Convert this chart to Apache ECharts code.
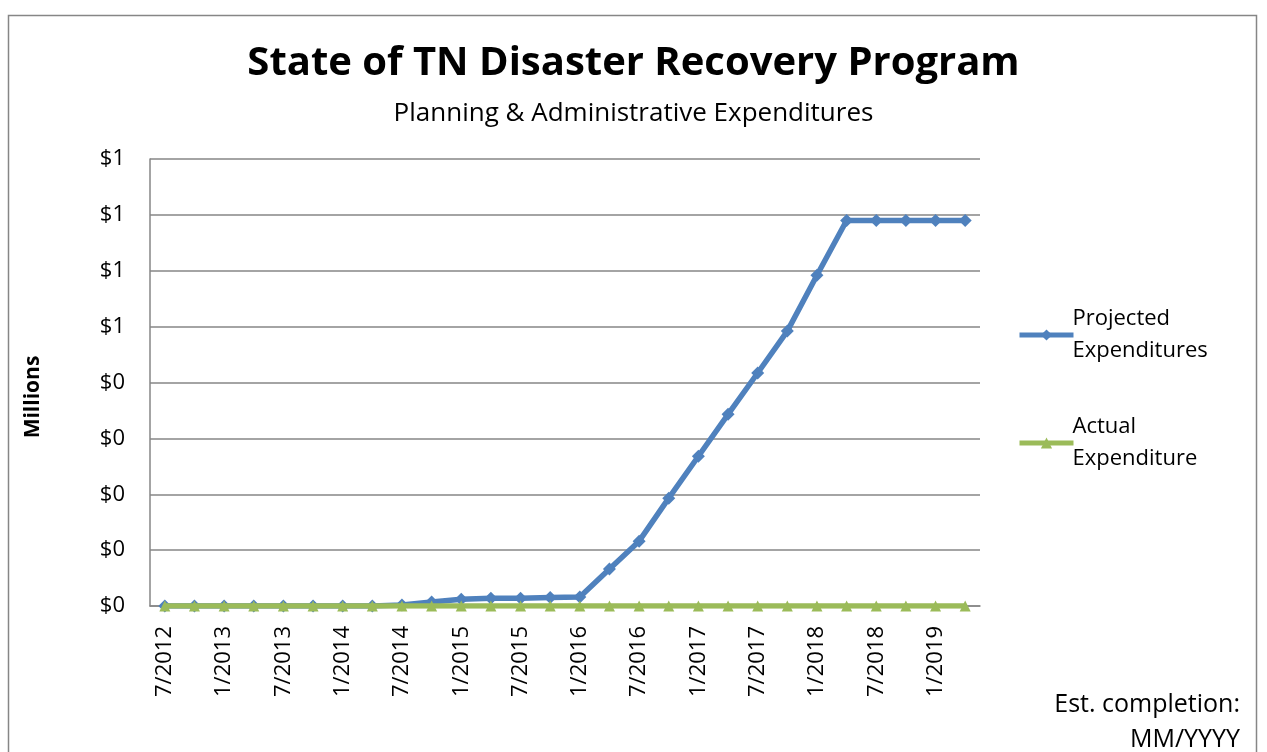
<!DOCTYPE html>
<html>
<head>
<meta charset="utf-8">
<script src="https://cdn.jsdelivr.net/npm/echarts@6/dist/echarts.min.js"></script>
<style>
  html, body { margin: 0; padding: 0; background: #fff; }
  #chart { width: 1267px; height: 752px; }
</style>
</head>
<body>
<div id="chart"></div>
<script>
// quarterly dates, 7/2012 .. 4/2019
const quarters = [
  "7/2012", "10/2012", "1/2013", "4/2013", "7/2013", "10/2013", "1/2014", "4/2014",
  "7/2014", "10/2014", "1/2015", "4/2015", "7/2015", "10/2015", "1/2016", "4/2016",
  "7/2016", "10/2016", "1/2017", "4/2017", "7/2017", "10/2017", "1/2018", "4/2018",
  "7/2018", "10/2018", "1/2019", "4/2019"
];

// values in millions of dollars
const projected = [
  0, 0, 0, 0, 0, 0, 0, 0,
  0.002, 0.007, 0.012, 0.014, 0.014, 0.015, 0.016, 0.066,
  0.116, 0.193, 0.268, 0.343, 0.417, 0.492, 0.592, 0.69,
  0.69, 0.69, 0.69, 0.69
];
const actual = Array(quarters.length).fill(0);

const fontFam = "'Open Sans', 'Noto Sans', sans-serif";

const chart = echarts.init(document.getElementById("chart"));
chart.setOption({
  animation: false,
  textStyle: { fontFamily: fontFam },
  title: [
    {
      text: "State of TN Disaster Recovery Program",
      left: "center", top: 39,
      textStyle: { fontSize: 40, fontWeight: "bold", color: "#000", fontFamily: fontFam }
    },
    {
      text: "Planning & Administrative Expenditures",
      left: "center", top: 96,
      textStyle: { fontSize: 26, fontWeight: "normal", color: "#000", fontFamily: fontFam }
    }
  ],
  graphic: [
    {
      type: "rect",
      shape: { x: 8.5, y: 15.5, width: 1248, height: 760 },
      style: { fill: "none", stroke: "#868686", lineWidth: 1.5 },
      silent: true
    },
    {
      type: "text",
      x: 1240, y: 705,
      style: {
        text: "Est. completion:",
        align: "right", verticalAlign: "middle",
        fontSize: 25, fill: "#000", fontFamily: fontFam
      }
    },
    {
      type: "text",
      x: 1240, y: 740,
      style: {
        text: "MM/YYYY",
        align: "right", verticalAlign: "middle",
        fontSize: 25, fill: "#000", fontFamily: fontFam
      }
    },
    {
      type: "text",
      x: 33, y: 397,
      rotation: Math.PI / 2,
      style: {
        text: "Millions",
        align: "center", verticalAlign: "middle",
        fontSize: 21, fontWeight: "bold",
        fill: "#000", fontFamily: fontFam
      }
    }
  ],
  legend: {
    orient: "vertical",
    left: 1012, top: 298,
    itemWidth: 54, itemHeight: 14,
    itemGap: 44,
    lineStyle: { width: 5 },
    textStyle: { fontSize: 22, color: "#000", lineHeight: 32, fontFamily: fontFam, padding: [0, 0, 0, -6] },
    data: [
      { name: "Projected\nExpenditures" },
      { name: "Actual\nExpenditure" }
    ]
  },
  grid: { left: 150, right: 287, top: 159, bottom: 146 },
  xAxis: {
    type: "category",
    data: quarters,
    boundaryGap: true,
    axisLine: { lineStyle: { color: "#868686", width: 1.5 } },
    axisTick: { show: false },
    axisLabel: {
      interval: 1, rotate: 90,
      fontSize: 22, color: "#000", margin: 20,
      fontFamily: fontFam
    }
  },
  yAxis: {
    type: "value",
    min: 0, max: 0.8, interval: 0.1,
    axisLine: { show: true, lineStyle: { color: "#868686", width: 1.5 } },
    axisTick: { show: false },
    splitLine: { lineStyle: { color: "#868686", width: 1.5 } },
    axisLabel: {
      fontSize: 22, color: "#000", margin: 25,
      fontFamily: fontFam,
      formatter: v => "$" + Math.round(v + 1e-9)
    }
  },
  series: [
    {
      name: "Projected\nExpenditures",
      type: "line",
      data: projected,
      symbol: "diamond", symbolSize: 13,
      lineStyle: { color: "#4F81BD", width: 5.5 },
      itemStyle: { color: "#4F81BD" },
      z: 2
    },
    {
      name: "Actual\nExpenditure",
      type: "line",
      data: actual,
      symbol: "triangle", symbolSize: 11,
      lineStyle: { color: "#9BBB59", width: 5.5 },
      itemStyle: { color: "#9BBB59" },
      z: 3
    }
  ]
});
</script>
</body>
</html>
